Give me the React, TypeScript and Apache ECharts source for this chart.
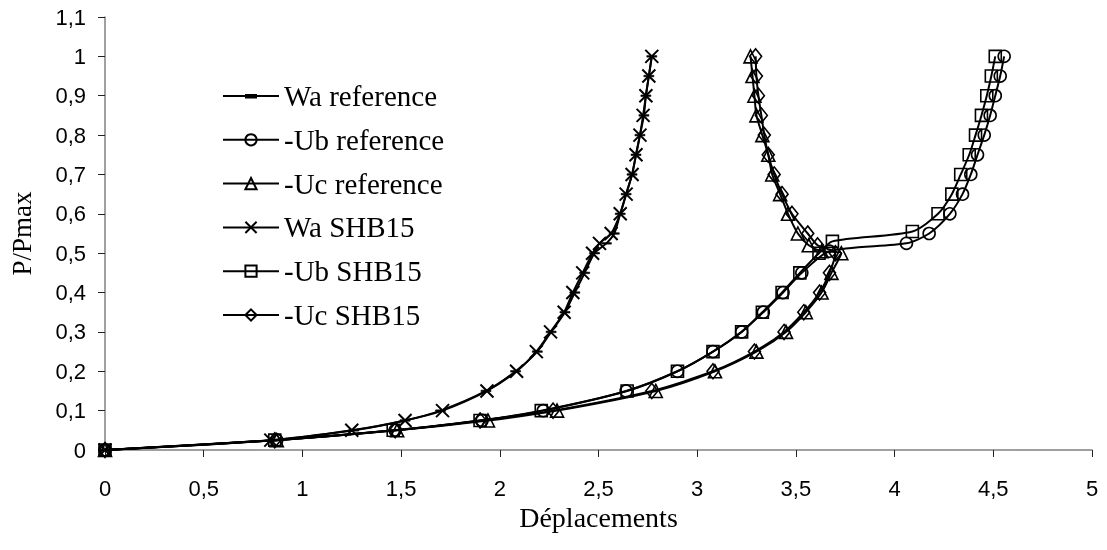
import React, { useEffect, useRef } from "react";
import * as echarts from "echarts";

const seriesNames = ["Wa reference", "-Ub reference", "-Uc reference", "Wa SHB15", "-Ub SHB15", "-Uc SHB15"];

const waReference: number[][] = [
  [0, 0], [0.85, 0.025], [1.26, 0.05], [1.52, 0.075], [1.7, 0.1], [1.93, 0.15], [2.08, 0.2], [2.19, 0.25],
  [2.26, 0.3], [2.33, 0.35], [2.38, 0.4], [2.43, 0.45], [2.48, 0.5], [2.54, 0.525], [2.58, 0.55], [2.61, 0.6],
  [2.64, 0.65], [2.67, 0.7], [2.69, 0.75], [2.71, 0.8], [2.73, 0.85], [2.74, 0.9], [2.755, 0.95], [2.77, 1.0],
];
const ubReference: number[][] = [
  [0, 0], [0.87, 0.025], [1.47, 0.05], [1.91, 0.075], [2.22, 0.1], [2.64, 0.15], [2.9, 0.2], [3.08, 0.25],
  [3.225, 0.3], [3.335, 0.35], [3.435, 0.4], [3.53, 0.45], [3.67, 0.505], [4.06, 0.525], [4.175, 0.55],
  [4.28, 0.6], [4.344, 0.65], [4.386, 0.7], [4.42, 0.75], [4.454, 0.8], [4.484, 0.85], [4.51, 0.9],
  [4.535, 0.95], [4.555, 1.0],
];
const ucReference: number[][] = [
  [0, 0], [0.87, 0.025], [1.48, 0.05], [1.94, 0.075], [2.29, 0.1], [2.79, 0.15], [3.09, 0.2], [3.3, 0.25],
  [3.45, 0.3], [3.55, 0.35], [3.63, 0.4], [3.68, 0.45], [3.73, 0.5], [3.63, 0.505], [3.565, 0.52],
  [3.51, 0.55], [3.46, 0.6], [3.42, 0.65], [3.38, 0.7], [3.36, 0.75], [3.33, 0.8], [3.3, 0.85], [3.29, 0.9],
  [3.28, 0.95], [3.27, 1.0],
];
const waSHB15: number[][] = [
  [0, 0], [0.84, 0.025], [1.25, 0.05], [1.52, 0.075], [1.71, 0.1], [1.935, 0.15], [2.085, 0.2], [2.185, 0.25],
  [2.257, 0.3], [2.326, 0.35], [2.37, 0.4], [2.42, 0.45], [2.47, 0.5], [2.505, 0.525], [2.564, 0.55],
  [2.61, 0.6], [2.64, 0.65], [2.67, 0.7], [2.69, 0.75], [2.71, 0.8], [2.726, 0.85], [2.74, 0.9],
  [2.755, 0.95], [2.77, 1.0],
];
const ubSHB15: number[][] = [
  [0, 0], [0.86, 0.025], [1.46, 0.05], [1.9, 0.075], [2.21, 0.1], [2.645, 0.15], [2.9, 0.2], [3.08, 0.25],
  [3.225, 0.3], [3.33, 0.35], [3.43, 0.4], [3.52, 0.45], [3.617, 0.5], [3.685, 0.53], [4.09, 0.555],
  [4.22, 0.6], [4.29, 0.65], [4.335, 0.7], [4.378, 0.75], [4.41, 0.8], [4.44, 0.85], [4.467, 0.9],
  [4.49, 0.95], [4.51, 1.0],
];
const ucSHB15: number[][] = [
  [0, 0], [0.86, 0.025], [1.47, 0.05], [1.9, 0.075], [2.27, 0.1], [2.77, 0.15], [3.08, 0.2], [3.29, 0.25],
  [3.44, 0.3], [3.54, 0.35], [3.62, 0.4], [3.67, 0.45], [3.7, 0.5], [3.61, 0.52], [3.56, 0.55], [3.48, 0.6],
  [3.43, 0.65], [3.39, 0.7], [3.36, 0.75], [3.34, 0.8], [3.325, 0.85], [3.31, 0.9], [3.3, 0.95], [3.296, 1.0],
];

const xTitle = "Déplacements";
const yTitle = "P/Pmax";

const crossPath = "path://M0,0L10,10M10,0L0,10";
const dashPath = "path://M0,0L10,0L10,4L0,4Z";
// legend icon for the dash-marker series: line + short thick dash, spanning a 56x14 box
const dashLegendIcon = "path://M0,0L0,0L0,0Z M56,14L56,14L56,14Z M0,6L56,6L56,8L0,8Z M22,5L34,5L34,9.5L22,9.5Z";

const fmt = (v: number) => String(Math.round(v * 10) / 10).replace(".", ",");

export default function App() {
  const ref = useRef<HTMLDivElement>(null);
  useEffect(() => {
    if (!ref.current) return;
    const chart = echarts.init(ref.current, null, { renderer: "svg" });
    const hollow = { color: "rgba(255,255,255,0)", borderColor: "#000", borderWidth: 1.6 };
    const mk = (name: string, data: number[][], symbol: string, size: any, itemStyle: any, z: number) => ({
      name,
      type: "line",
      data,
      symbol,
      symbolSize: size,
      symbolKeepAspect: true,
      smooth: 0.25,
      z,
      lineStyle: { color: "#000", width: 2 },
      itemStyle,
      emphasis: { disabled: true },
    });
    chart.setOption({
      animation: false,
      grid: { left: 105, right: 15, top: 17, bottom: 100, containLabel: false },
      legend: {
        orient: "vertical",
        left: 217,
        top: 76,
        itemWidth: 56,
        itemHeight: 14,
        itemGap: 13.8,
        data: [
          { name: seriesNames[0], icon: dashLegendIcon, itemStyle: { color: "#000", borderWidth: 0 } },
          seriesNames[1],
          seriesNames[2],
          seriesNames[3],
          seriesNames[4],
          seriesNames[5],
        ],
        textStyle: { fontFamily: "Liberation Serif", fontSize: 29, color: "#000", lineHeight: 30 },
        selectedMode: false,
      },
      xAxis: {
        type: "value",
        min: 0,
        max: 5,
        interval: 0.5,
        name: xTitle,
        nameLocation: "middle",
        nameGap: 44,
        nameTextStyle: { fontFamily: "Liberation Serif", fontSize: 28, color: "#000" },
        axisLine: { onZero: false, lineStyle: { color: "#808080", width: 1.5 } },
        axisTick: { show: true, inside: false, length: 7, lineStyle: { color: "#222", width: 1 } },
        axisLabel: { formatter: fmt, margin: 27, fontFamily: "Liberation Sans", fontSize: 22, color: "#000" },
        splitLine: { show: false },
      },
      yAxis: {
        type: "value",
        min: 0,
        max: 1.1,
        interval: 0.1,
        name: yTitle,
        nameLocation: "middle",
        nameGap: 70,
        nameTextStyle: { fontFamily: "Liberation Serif", fontSize: 27, color: "#000" },
        axisLine: { show: true, lineStyle: { color: "#808080", width: 1.5 } },
        axisTick: { show: true, inside: false, length: 7, lineStyle: { color: "#222", width: 1 } },
        axisLabel: { formatter: fmt, margin: 19, fontFamily: "Liberation Sans", fontSize: 22, color: "#000" },
        splitLine: { show: false },
      },
      series: [
        mk(seriesNames[0], waReference, dashPath, [10, 4], { color: "#000", borderColor: "#000", borderWidth: 0.5 }, 2),
        mk(seriesNames[1], ubReference, "circle", 12, hollow, 3),
        mk(seriesNames[2], ucReference, "triangle", 13, hollow, 3),
        mk(seriesNames[3], waSHB15, crossPath, 13, { color: "#000", borderColor: "#000", borderWidth: 2 }, 4),
        mk(seriesNames[4], ubSHB15, "rect", 12, hollow, 4),
        mk(seriesNames[5], ucSHB15, "diamond", [12, 15], hollow, 4),
      ],
    });
    return () => chart.dispose();
  }, []);
  return <div ref={ref} style={{ position: "fixed", left: 0, top: 0, width: 1107, height: 550 }} />;
}
